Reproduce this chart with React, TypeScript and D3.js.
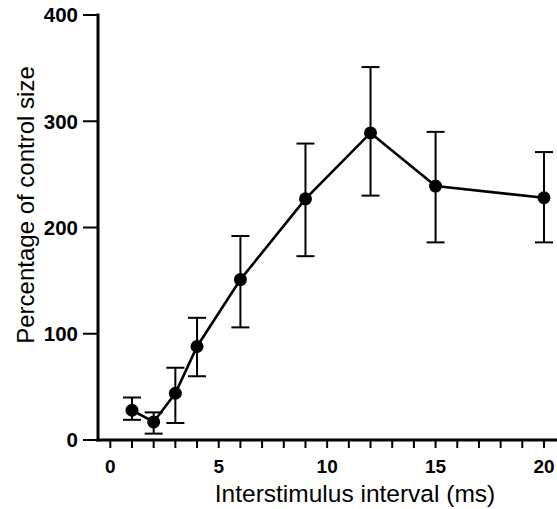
import React from "react";
import * as d3 from "d3";

const intervals = [1, 2, 3, 4, 6, 9, 12, 15, 20];
const means = [28, 17, 44, 88, 151, 227, 289, 239, 228];
const lowers = [19, 6, 16, 60, 106, 173, 230, 186, 186];
const uppers = [40, 26, 68, 115, 192, 279, 351, 290, 271];
const xTickLabels = [0, 5, 10, 15, 20];
const yTickLabels = [0, 100, 200, 300, 400];
const xMinorTicks = d3.range(0, 21, 1);

const W = 557;
const H = 509;

export default function App() {
  const x = d3.scaleLinear().domain([0, 20]).range([110.3, 544]);
  const y = d3.scaleLinear().domain([0, 400]).range([440, 15]);
  const axisX0 = 98;
  const axisY0 = 440;
  const line = d3
    .line<number>()
    .x((_, i) => x(intervals[i]))
    .y((d) => y(d));
  const font = "Liberation Sans, Arial, sans-serif";
  return (
    <svg
      width={W}
      height={H}
      style={{ position: "absolute", left: 0, top: 0, background: "#fff" }}
      fontFamily={font}
    >
      {/* error bars */}
      {intervals.map((v, i) => (
        <g key={"e" + i} stroke="#000" strokeWidth={2}>
          <line x1={x(v)} x2={x(v)} y1={y(lowers[i])} y2={y(uppers[i])} />
          <line x1={x(v) - 9} x2={x(v) + 9} y1={y(lowers[i])} y2={y(lowers[i])} />
          <line x1={x(v) - 9} x2={x(v) + 9} y1={y(uppers[i])} y2={y(uppers[i])} />
        </g>
      ))}
      <path d={line(means) || ""} fill="none" stroke="#000" strokeWidth={2.6} />
      {intervals.map((v, i) => (
        <circle key={"p" + i} cx={x(v)} cy={y(means[i])} r={6.5} fill="#000" />
      ))}
      {/* y axis */}
      <line x1={axisX0} x2={axisX0} y1={y(400) - 1.5} y2={axisY0 + 1.5} stroke="#000" strokeWidth={3} />
      {yTickLabels.map((t) => (
        <g key={"y" + t}>
          <line x1={axisX0 - 15} x2={axisX0} y1={y(t)} y2={y(t)} stroke="#000" strokeWidth={2} />
          <text
            x={78}
            y={y(t)}
            dy="0.36em"
            textAnchor="end"
            fontSize={20.5}
            fontWeight="bold"
          >
            {t}
          </text>
        </g>
      ))}
      {/* x axis */}
      <line x1={axisX0 - 1.5} x2={W} y1={axisY0} y2={axisY0} stroke="#000" strokeWidth={3} />
      {xMinorTicks.map((t) => (
        <line key={"xt" + t} x1={x(t)} x2={x(t)} y1={axisY0} y2={axisY0 + 8} stroke="#000" strokeWidth={2} />
      ))}
      {xTickLabels.map((t) => (
        <text key={"xl" + t} x={x(t)} y={473} textAnchor="middle" fontSize={19} fontWeight="bold">
          {t}
        </text>
      ))}
      <text x={355} y={502} textAnchor="middle" fontSize={24.5}>
        Interstimulus interval (ms)
      </text>
      <text
        transform={`translate(34, 205) rotate(-90)`}
        textAnchor="middle"
        fontSize={24}
      >
        Percentage of control size
      </text>
    </svg>
  );
}
